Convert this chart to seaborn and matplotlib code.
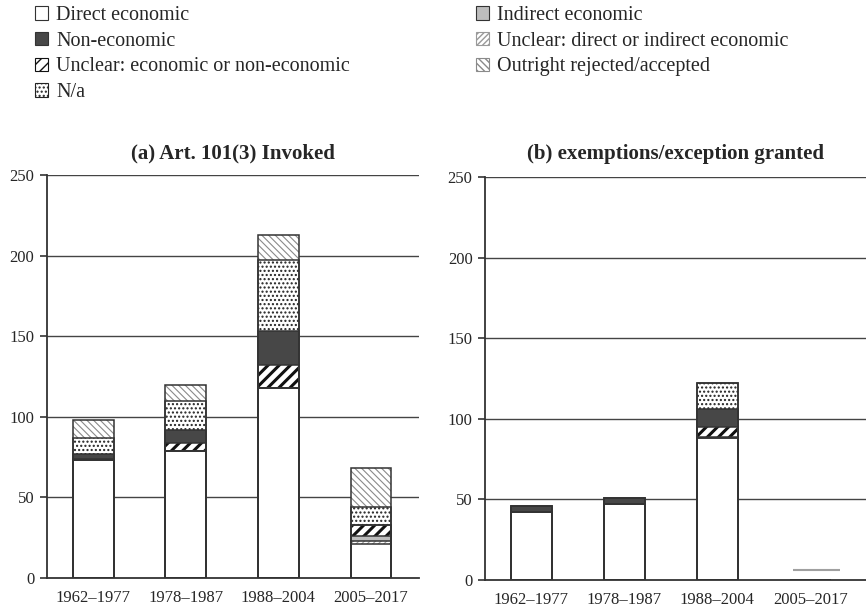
import matplotlib
matplotlib.use("Agg")
import matplotlib.pyplot as plt
import matplotlib.patches as mpatches
import seaborn as sns
import numpy as np

# Periods on the x axis
periods = ["1962–1977", "1978–1987", "1988–2004", "2005–2017"]

# Panel (a): Art. 101(3) invoked — counts per category, stacked bottom to top
a_direct = [73, 79, 118, 21]
a_unclear_di = [0, 0, 0, 2]
a_indirect = [0, 0, 0, 3]
a_unclear_ene = [1, 5, 14, 7]
a_noneco = [3, 8, 21, 0]
a_na = [10, 18, 44, 11]
a_outright = [11, 10, 16, 24]

# Panel (b): exemptions/exception granted
b_direct = [42, 47, 88, 0]
b_unclear_di = [0, 0, 0, 0]
b_indirect = [0, 0, 1, 0]
b_unclear_ene = [0, 0, 6, 0]
b_noneco = [4, 4, 11, 0]
b_na = [0, 0, 16, 0]
b_outright = [0, 0, 0, 0]
b_stray_period = ["2005–2017"]
b_stray_value = [6]

y_ticks = [0, 50, 100, 150, 200, 250]
titles = ["(a) Art. 101(3) Invoked", "(b) exemptions/exception granted"]

# Layer styles: label, fill colour, hatch, hatch colour, hatch linewidth
layers = [
    ("Direct economic", "white", None, "#333333", 1.0),
    ("Unclear: direct or indirect economic", "white", "//////", "#9a9a9a", 0.8),
    ("Indirect economic", "#bdbdbd", None, "#333333", 1.0),
    ("Unclear: economic or non-economic", "white", "///", "#111111", 2.2),
    ("Non-economic", "#474747", None, "#333333", 1.0),
    ("N/a", "white", "....", "#222222", 1.0),
    ("Outright rejected/accepted", "white", "\\\\\\\\\\", "#8a8a8a", 0.8),
]

sns.set_theme(style="white")
plt.rcParams["font.family"] = ["Liberation Serif", "DejaVu Serif"]

fig = plt.figure(figsize=(8.66, 6.11), dpi=100)
ax_a = fig.add_axes([47 / 866, 1 - 578 / 611, 372 / 866, 403 / 611])
ax_b = fig.add_axes([485 / 866, 1 - 580 / 611, 381 / 866, 403 / 611])

BAR_W = 0.44
EDGE = "#333333"


def draw_panel(ax, series, title, xmax, pad):
    cum = np.cumsum(np.array(series, dtype=float), axis=0)
    # Overlay bars from the tallest cumulative layer down to the base layer
    for i in range(len(layers) - 1, -1, -1):
        label, face, hatch, hcol, hlw = layers[i]
        tops = cum[i]
        with plt.rc_context({"hatch.linewidth": hlw}):
            sns.barplot(x=periods, y=tops, order=periods, color=face,
                        saturation=1, width=BAR_W, linewidth=0,
                        edgecolor=hcol if hatch else face,
                        hatch=hatch, ax=ax, zorder=3)
        sns.barplot(x=periods, y=tops, order=periods, color=EDGE,
                    fill=False, saturation=1, width=BAR_W, linewidth=1.1,
                    ax=ax, zorder=4)
    ax.set_ylim(0, 250)
    ax.set_xlim(-0.5, xmax)
    ax.set_yticks(y_ticks)
    ax.set_yticklabels([str(v) for v in y_ticks], fontsize=12)
    ax.set_xticks(range(len(periods)))
    ax.set_xticklabels(periods, fontsize=12)
    ax.set_xticks([-0.5, 0.5, 1.5, 2.5], minor=True)
    ax.tick_params(axis="x", which="major", length=0, pad=9)
    ax.tick_params(axis="x", which="minor", length=6, width=1.2,
                   color=EDGE, direction="out")
    ax.tick_params(axis="y", length=5, width=1.2, color=EDGE,
                   direction="out", left=True, pad=4)
    ax.set_xlabel("")
    ax.set_ylabel("")
    for v in y_ticks[1:]:
        ax.axhline(v, color="#444444", lw=1.0, zorder=1)
    for s in ["top", "right"]:
        ax.spines[s].set_visible(False)
    for s in ["left", "bottom"]:
        ax.spines[s].set_color(EDGE)
        ax.spines[s].set_linewidth(1.3)
    ax.set_title(title, fontsize=15, fontweight="bold", pad=pad)


draw_panel(ax_a, [a_direct, a_unclear_di, a_indirect, a_unclear_ene,
                  a_noneco, a_na, a_outright], titles[0], 3.52, 12)
draw_panel(ax_b, [b_direct, b_unclear_di, b_indirect, b_unclear_ene,
                  b_noneco, b_na, b_outright], titles[1], 3.6, 13)

# Short grey rule in the last period of panel (b)
for p, v in zip(b_stray_period, b_stray_value):
    xi = periods.index(p)
    ax_b.hlines(v, xi - 0.19, xi + 0.32, color="#a0a0a0", lw=1.5, zorder=3)


def handle(idx):
    label, face, hatch, hcol, hlw = layers[idx]
    return mpatches.Patch(facecolor=face, edgecolor=hcol if hatch else EDGE,
                          hatch=hatch, linewidth=0.8, label=label)


col1 = [handle(0), handle(4), handle(3), handle(5)]
col2 = [handle(2), handle(1), handle(6)]
leg_kw = dict(frameon=False, fontsize=14.5, handlelength=0.65, handleheight=0.65,
              handletextpad=0.4, labelspacing=0.33, borderpad=0, loc="upper left")
fig.legend(handles=col1, bbox_to_anchor=(25 / 866, 1 + 4 / 611), **leg_kw)
fig.legend(handles=col2, bbox_to_anchor=(466 / 866, 1 + 4 / 611), **leg_kw)

fig.savefig("out.png", dpi=100)
